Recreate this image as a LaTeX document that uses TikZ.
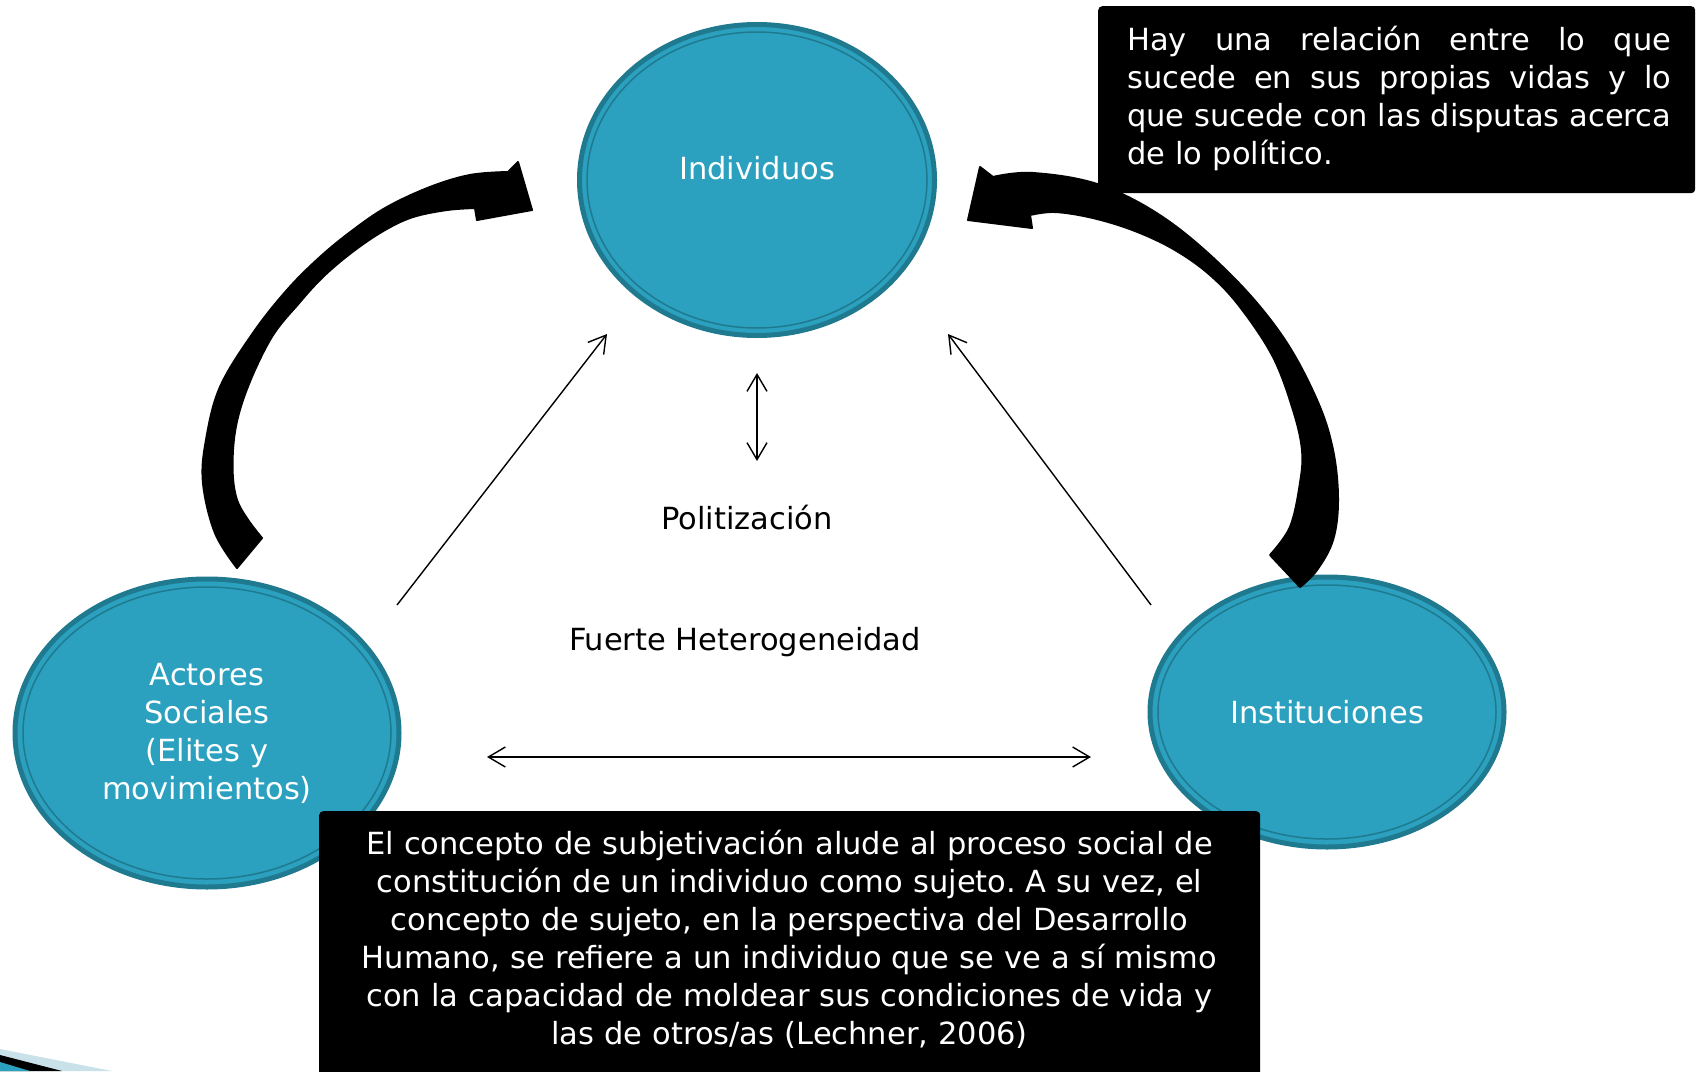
\documentclass[tikz,border=0pt]{standalone}
\usepackage{fontspec}
\setmainfont{DejaVu Sans}
\usepackage{tikz}
\usetikzlibrary{shapes.geometric,arrows.meta,positioning}
\definecolor{celeste}{HTML}{2BA1BF}
\definecolor{celesteborde}{HTML}{1F7A8F}
\definecolor{celesteclaro}{HTML}{C9E2EA}
\newcommand{\txtgrande}{\fontsize{30.5pt}{38pt}\selectfont}
\frenchspacing

\begin{document}
\begin{tikzpicture}[x=1pt, y=-1pt,
	actor/.style={ellipse, fill=celeste, draw=celesteborde, line width=5pt, text=white, font=\txtgrande, align=center, inner sep=0pt},
	anillo/.style={draw=celesteborde, line width=1.5pt},
	caja/.style={fill=black, rounded corners=4pt, inner sep=0pt},
	blanco/.style={text=white, font=\txtgrande, inner sep=0pt},
	curva/.style={fill=black, draw=black, line width=2pt, line join=round},
	>={Straight Barb[length=17pt,width=20pt]}]
	\useasboundingbox (0,0) rectangle (1697,1071);
	
	\node[actor, minimum width=355pt, minimum height=311pt](IND) at (757,180){};
	\node[blanco, yshift=12pt](INDTXT) at (IND.center){Individuos};
	\node[actor, minimum width=384pt, minimum height=308pt](ACT) at (207,733){Actores\\Sociales\\(Elites y\\movimientos)};
	\node[actor, minimum width=354pt, minimum height=270pt](INS) at (1327,712){Instituciones};
	
	\draw[anillo] (IND.center) ellipse [x radius=170pt, y radius=148pt];
	\draw[anillo] (ACT.center) ellipse [x radius=184pt, y radius=146pt];
	\draw[anillo] (INS.center) ellipse [x radius=169pt, y radius=127pt];
	
	\node[font=\txtgrande, anchor=base](POL) at (747,529){Politización};
	\node[font=\txtgrande, anchor=base](HET) at (745,650){Fuerte Heterogeneidad};
	
	\coordinate (D1) at (397,605);
	\coordinate (D2) at (607,334);
	\coordinate (D3) at (1151,605);
	\coordinate (D4) at (948,334);
	\coordinate (V1) at (757,373);
	\coordinate (V2) at (757,461);
	\coordinate (H1) at (487,757);
	\coordinate (H2) at (1091,757);
	
	\draw[line width=1.4pt, ->] (D1) -- (D2);
	\draw[line width=1.4pt, ->] (D3) -- (D4);
	\draw[line width=1.4pt, <->] (V1) -- (V2);
	\draw[line width=1.4pt, <->] (H1) -- (H2);
	
	% flecha curva izquierda: Actores -> Individuos
	\filldraw[curva] (518,162) -- (532,210) -- (477,220)
		-- plot[smooth, tension=0.6] coordinates {(475,208) (447,210) (413,217) (385,230) (355,250) (325,275) (300,302) (270,340) (243,400) (233,450) (237,500) (262,538)}
		-- plot[smooth, tension=0.6] coordinates {(237,568) (215,533) (203,483) (206,440) (220,387) (253,333) (287,290) (320,257) (353,230) (387,207) (430,187) (470,175) (508,172)}
		-- cycle;
	% flecha curva derecha: Instituciones -> Individuos
	\filldraw[curva] (980,167) -- (968,220) -- (1032,228)
		-- plot[smooth, tension=0.6] coordinates {(1030,215) (1055,212) (1093,218) (1135,231) (1175,250) (1210,275) (1240,307) (1273,357) (1293,410) (1302,450) (1300,483) (1290,527) (1270,555)}
		-- plot[smooth, tension=0.6] coordinates {(1300,587) (1317,570) (1333,540) (1338,500) (1333,450) (1317,400) (1283,337) (1233,277) (1167,220) (1100,185) (1033,173) (993,177)}
		-- cycle;
	
	\node[caja, minimum width=597pt, minimum height=187pt, anchor=north west](CAJASUP) at (1098,6){};
	\node[blanco, text width=544pt, align=left, anchor=base west](TXTSUP) at (1127,50){%
		\makebox[544pt]{Hay\hfill una\hfill relación\hfill entre\hfill lo\hfill que}\\
		\makebox[544pt]{sucede\hfill en\hfill sus\hfill propias\hfill vidas\hfill y\hfill lo}\\
		\makebox[544pt]{que\hfill sucede\hfill con\hfill las\hfill disputas\hfill acerca}\\
		de lo político.};
	
	\node[caja, minimum width=941pt, minimum height=290pt, anchor=north west](CAJAINF) at (319,811){};
	\node[blanco, text width=941pt, align=center, anchor=base](TXTINF) at (789.5,854){%
		El concepto de subjetivación alude al proceso social de\\
		constitución de un individuo como sujeto. A su vez, el\\
		concepto de sujeto, en la perspectiva del Desarrollo\\
		Humano, se refiere a un individuo que se ve a sí mismo\\
		con la capacidad de moldear sus condiciones de vida y\\
		las de otros/as (Lechner, 2006)};
	
	\fill[celesteclaro] (0,1049) -- (112,1071) -- (0,1071) -- cycle;
	\fill[black] (0,1055) -- (62,1071) -- (0,1071) -- cycle;
	\fill[celeste] (0,1062) -- (30,1071) -- (0,1071) -- cycle;
\end{tikzpicture}
\end{document}
